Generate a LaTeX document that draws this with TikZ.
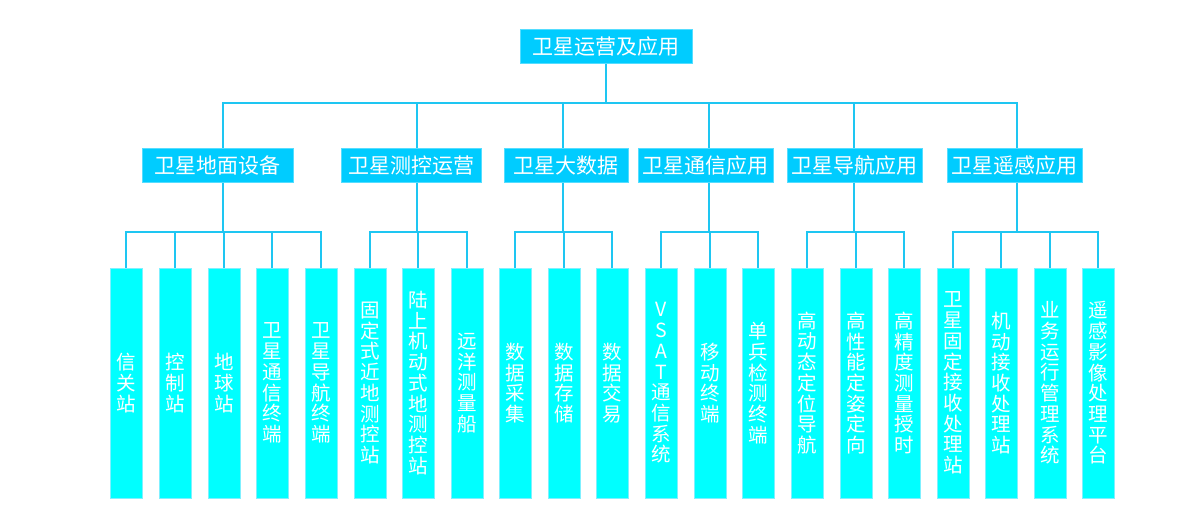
\documentclass[tikz,border=0pt]{standalone}
\usepackage{fontspec}
\newfontfamily\cjk{Noto Sans CJK SC}
\definecolor{hdr}{HTML}{00CCFF}
\definecolor{leaf}{HTML}{00FFFF}
\definecolor{ln}{HTML}{1EC6F2}
\definecolor{hdrb}{HTML}{55DDFF}
\definecolor{leafb}{HTML}{7FF0FF}
\begin{document}
\begin{tikzpicture}[x=1pt,y=-1pt,
  hdrbox/.style={fill=hdr,draw=hdrb,line width=0.6pt,inner sep=0pt,text=white,
    font=\cjk\fontsize{21}{23}\selectfont,anchor=north west},
  leafbox/.style={fill=leaf,draw=leafb,line width=0.6pt,inner sep=0pt,text=white,
    minimum width=32pt,minimum height=230pt,align=center,
    font=\cjk\fontsize{19.5}{20.7}\selectfont},
  conn/.style={draw=ln,line width=2pt}]
\useasboundingbox (0,0) rectangle (1182,532);
% top
\node[hdrbox,minimum width=172pt,minimum height=34pt] (top) at (520,29) {卫星运营及应用};
% level 2
\node[hdrbox,minimum width=151pt,minimum height=34pt] (g1) at (142,148) {卫星地面设备};
\node[hdrbox,minimum width=140pt,minimum height=34pt] (g2) at (341,148) {卫星测控运营};
\node[hdrbox,minimum width=124pt,minimum height=34pt] (g3) at (504,148) {卫星大数据};
\node[hdrbox,minimum width=135pt,minimum height=34pt] (g4) at (638,148) {卫星通信应用};
\node[hdrbox,minimum width=135pt,minimum height=34pt] (g5) at (787,148) {卫星导航应用};
\node[hdrbox,minimum width=135pt,minimum height=34pt] (g6) at (947,148) {卫星遥感应用};
% leaves
\node[leafbox] (a1) at (126,383) {信\\关\\站};
\node[leafbox] (a2) at (175,383) {控\\制\\站};
\node[leafbox] (a3) at (224,383) {地\\球\\站};
\node[leafbox] (a4) at (272,383) {卫\\星\\通\\信\\终\\端};
\node[leafbox] (a5) at (321,383) {卫\\星\\导\\航\\终\\端};
\node[leafbox] (b1) at (370,383) {固\\定\\式\\近\\地\\测\\控\\站};
\node[leafbox] (b2) at (418,383) {陆\\上\\机\\动\\式\\地\\测\\控\\站};
\node[leafbox] (b3) at (467,383) {远\\洋\\测\\量\\船};
\node[leafbox] (c1) at (515,383) {数\\据\\采\\集};
\node[leafbox] (c2) at (564,383) {数\\据\\存\\储};
\node[leafbox] (c3) at (612,383) {数\\据\\交\\易};
\node[leafbox] (d1) at (661,383) {V\\S\\A\\T\\通\\信\\系\\统};
\node[leafbox] (d2) at (710,383) {移\\动\\终\\端};
\node[leafbox] (d3) at (758,383) {单\\兵\\检\\测\\终\\端};
\node[leafbox] (e1) at (807,383) {高\\动\\态\\定\\位\\导\\航};
\node[leafbox] (e2) at (856,383) {高\\性\\能\\定\\姿\\定\\向};
\node[leafbox] (e3) at (904,383) {高\\精\\度\\测\\量\\授\\时};
\node[leafbox] (f1) at (953,383) {卫\\星\\固\\定\\接\\收\\处\\理\\站};
\node[leafbox] (f2) at (1001,383) {机\\动\\接\\收\\处\\理\\站};
\node[leafbox] (f3) at (1050,383) {业\\务\\运\\行\\管\\理\\系\\统};
\node[leafbox] (f4) at (1098,383) {遥\\感\\影\\像\\处\\理\\平\\台};
% junction coordinates
\coordinate (t0) at (606,103);
\coordinate (t1) at (223,103);
\coordinate (t2) at (417,103);
\coordinate (t3) at (563,103);
\coordinate (t4) at (709,103);
\coordinate (t5) at (854,103);
\coordinate (t6) at (1017,103);
% top connectors
\draw[conn] (top.south -| t0) -- (t0);
\draw[conn,line cap=rect] (t1) -- (t6);
\foreach \i in {1,...,6}{\draw[conn] (t\i) -- (t\i |- g\i.north);}
% group brackets
\foreach \g/\first/\last in {1/a1/a5,2/b1/b3,3/c1/c3,4/d1/d3,5/e1/e3,6/f1/f4}{
  \coordinate (m\g) at (t\g |- 0,232);
  \draw[conn] (t\g |- g\g.south) -- (m\g);
  \draw[conn,line cap=rect] (\first.north |- m\g) -- (\last.north |- m\g);
}
\foreach \n/\g in {a1/1,a2/1,a3/1,a4/1,a5/1,b1/2,b2/2,b3/2,c1/3,c2/3,c3/3,d1/4,d2/4,d3/4,e1/5,e2/5,e3/5,f1/6,f2/6,f3/6,f4/6}{
  \draw[conn] (\n.north |- m\g) -- (\n.north);
}
\end{tikzpicture}
\end{document}
